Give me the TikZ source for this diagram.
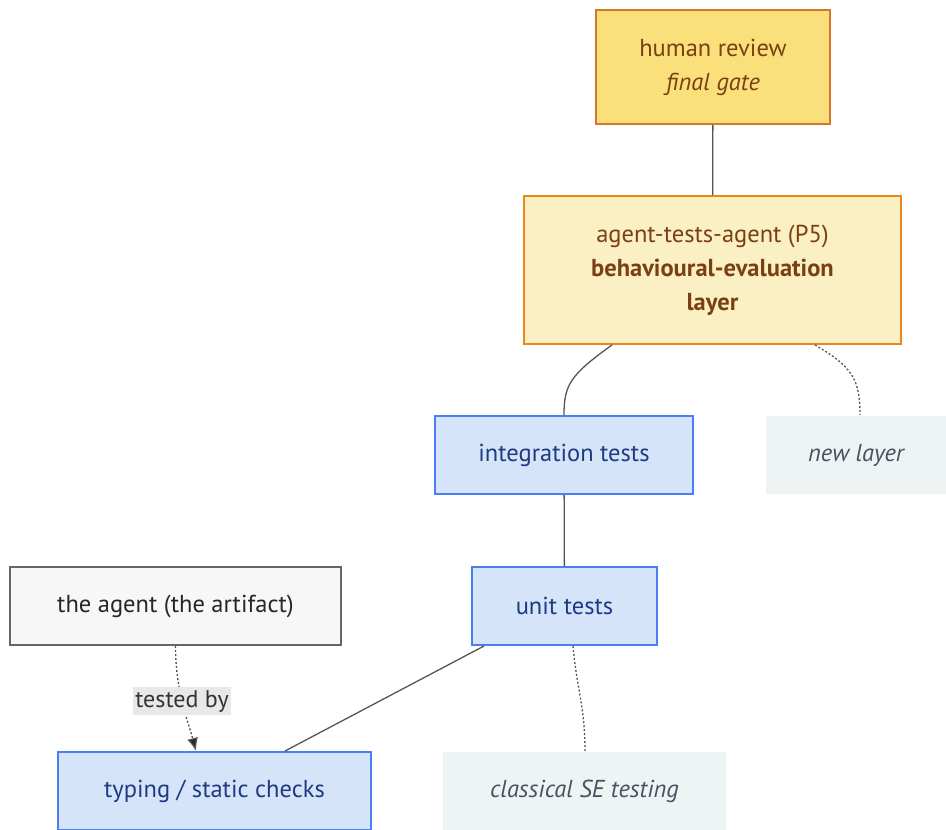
\documentclass[tikz,border=0pt]{standalone}
\usepackage{fontspec}
\setmainfont{PT Sans}
\usetikzlibrary{arrows.meta}

\definecolor{gatefill}{HTML}{F9E07A}
\definecolor{gatedraw}{HTML}{D4772A}
\definecolor{evalfill}{HTML}{FBEFC4}
\definecolor{evaldraw}{HTML}{E8891C}
\definecolor{browntext}{HTML}{7B3F14}
\definecolor{testfill}{HTML}{D6E4FA}
\definecolor{testdraw}{HTML}{4A7FEF}
\definecolor{testtext}{HTML}{1E3A80}
\definecolor{notefill}{HTML}{EEF3F4}
\definecolor{notetext}{HTML}{4A5260}
\definecolor{artfill}{HTML}{F7F7F7}
\definecolor{artdraw}{HTML}{666666}
\definecolor{edgecol}{HTML}{555555}
\definecolor{labelfill}{HTML}{E8E8E8}

\tikzset{
	box/.style={rectangle, inner sep=0pt, line width=2pt, align=center,
		font=\fontsize{24.5}{34}\selectfont},
	gate/.style={box, fill=gatefill, draw=gatedraw, text=browntext},
	evallayer/.style={box, fill=evalfill, draw=evaldraw, text=browntext},
	testlayer/.style={box, fill=testfill, draw=testdraw, text=testtext},
	note/.style={box, fill=notefill, draw=none, text=notetext, font=\fontsize{24.5}{34}\selectfont\itshape},
	artifact/.style={box, fill=artfill, draw=artdraw, text=black!85},
	link/.style={draw=edgecol, line width=1.3pt},
	softlink/.style={draw=edgecol, line width=1.3pt, dash pattern=on 2pt off 2pt}
}

\begin{document}
\begin{tikzpicture}[x=1pt, y=-1pt]
	\useasboundingbox (0,0) rectangle (946,830);
	
	\node[gate, minimum width=234pt, minimum height=114pt] (human) at (713,67) {human review\\\textit{final gate}};
	\node[evallayer, minimum width=377pt, minimum height=148pt] (ata) at (712.5,270)
		{agent-tests-agent (P5)\\\textbf{behavioural-evaluation}\\\textbf{layer}};
	\node[testlayer, minimum width=258pt, minimum height=78pt] (integ) at (564,455) {integration tests};
	\node[note, minimum width=180pt, minimum height=78pt] (newlayer) at (856,455) {new layer};
	\node[artifact, minimum width=331pt, minimum height=78pt] (agent) at (175.5,606) {the agent (the artifact)};
	\node[testlayer, minimum width=185pt, minimum height=78pt] (unit) at (564.5,606) {unit tests};
	\node[testlayer, minimum width=313pt, minimum height=78pt] (typing) at (214.5,791) {typing / static checks};
	\node[note, minimum width=283pt, minimum height=78pt] (classical) at (584.5,791) {classical SE testing};
	
	% stack of layers
	\draw[link] (human) -- (ata);
	\draw[link] ([xshift=-100.5pt]ata.south) .. controls +(-42,30) and +(0,-30) .. (integ.north);
	\draw[softlink] ([xshift=102.5pt]ata.south) .. controls +(38,22) and +(0,-35) .. ([xshift=4pt]newlayer.north);
	\draw[link] (integ) -- (unit);
	\draw[link] ([xshift=13pt]unit.south west) -- ([xshift=70.5pt]typing.north);
	\draw[softlink] ([xshift=8.5pt]unit.south) .. controls +(4,45) and +(0,-45) .. ([xshift=0.5pt]classical.north);
	
	% what gets tested
	\draw[softlink, -{Latex[length=13pt, width=11pt, fill=black!85]}] (agent.south) .. controls +(0,45) and +(-8,-30) .. ([xshift=-18.5pt]typing.north)
		node[pos=0.47, fill=labelfill, text=black!80, inner xsep=2pt, inner ysep=3pt, font=\fontsize{24}{28}\selectfont] (testedby) {tested by};
	
\end{tikzpicture}
\end{document}
